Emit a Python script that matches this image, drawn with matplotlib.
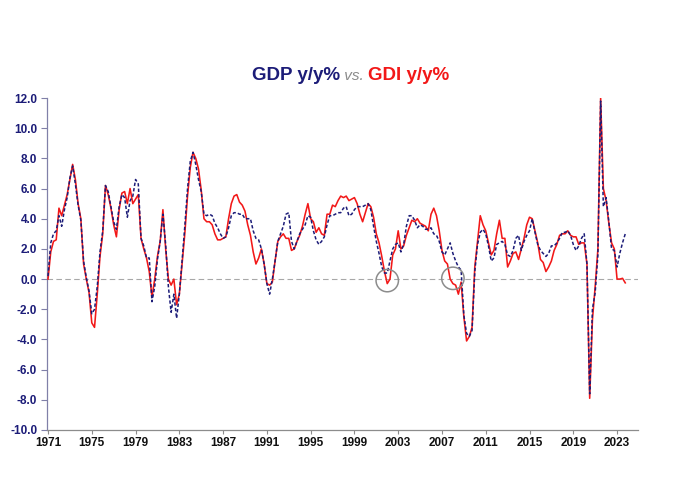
import numpy as np
import matplotlib
matplotlib.use("Agg")
import matplotlib.pyplot as plt
from matplotlib.offsetbox import TextArea, HPacker, AnchoredOffsetbox

plt.rcParams['font.family'] = ['Liberation Sans', 'DejaVu Sans']

# Quarterly y/y % (quarter-end positions, first point = 1970Q4 plotted at 1971.0)
start_year = 1971.0
gdp_yy = [
    0.2, 2.4, 3.0, 3.2,      # 1971
    4.2, 3.5, 4.6, 5.4,      # 1972
    6.7, 7.5, 6.3, 4.9,      # 1973
    3.9, 1.2, 0.1, -0.8,     # 1974
    -2.3, -2.0, -0.5, 1.8,   # 1975
    3.2, 6.2, 5.8, 4.8,      # 1976
    3.8, 3.3, 4.8, 5.6,      # 1977
    5.4, 4.1, 5.2, 5.5,      # 1978
    6.6, 6.3, 2.7, 2.2,      # 1979
    1.4, 1.4, -1.5, -0.5,    # 1980
    1.3, 2.5, 4.3, 2.3,      # 1981
    -0.5, -2.2, -1.0, -2.6,  # 1982
    -1.0, 1.2, 3.5, 6.0,     # 1983
    7.8, 8.4, 7.6, 6.6,      # 1984
    5.8, 4.3, 4.2, 4.3,      # 1985
    4.2, 3.7, 3.4, 3.0,      # 1986
    2.7, 2.8, 3.4, 4.2,      # 1987
    4.4, 4.4, 4.3, 4.3,      # 1988
    4.0, 4.0, 4.0, 3.2,      # 1989
    2.7, 2.6, 2.0, 1.0,      # 1990
    -0.3, -1.0, 0.0, 1.2,    # 1991
    2.5, 3.0, 3.5, 4.3,      # 1992
    4.4, 2.5, 2.0, 2.5,      # 1993
    3.0, 3.3, 3.6, 4.2,      # 1994
    4.1, 3.2, 2.6, 2.3,      # 1995
    2.5, 2.8, 3.6, 4.2,      # 1996
    4.2, 4.3, 4.4, 4.4,      # 1997
    4.7, 4.8, 4.2, 4.3,      # 1998
    4.6, 4.8, 4.8, 4.8,      # 1999
    4.9, 5.0, 4.6, 3.5,      # 2000
    2.5, 1.7, 0.8, 0.4,      # 2001
    0.4, 1.2, 2.0, 2.3,      # 2002
    2.4, 1.8, 2.3, 3.5,      # 2003
    4.2, 4.2, 3.9, 3.4,      # 2004
    3.6, 3.5, 3.3, 3.3,      # 2005
    3.4, 3.0, 2.9, 2.5,      # 2006
    1.8, 1.6, 2.0, 2.4,      # 2007
    1.7, 1.2, 0.8, 0.6,      # 2008
    -2.4, -3.6, -3.8, -3.4,  # 2009
    0.5, 2.3, 3.1, 3.3,      # 2010
    3.0, 2.2, 1.2, 1.4,      # 2011
    2.3, 2.4, 2.5, 2.3,      # 2012
    1.6, 1.5, 1.9, 2.7,      # 2013
    2.9, 1.9, 2.5, 2.9,      # 2014
    3.2, 4.0, 3.1, 2.3,      # 2015
    1.9, 1.7, 1.5, 1.7,      # 2016
    2.2, 2.2, 2.4, 2.7,      # 2017
    3.1, 3.1, 3.2, 2.9,      # 2018
    2.3, 1.9, 2.2, 2.7,      # 2019
    3.0, 1.0, -7.6, -2.0,    # 2020
    -0.9, 1.6, 11.8, 4.8,    # 2021
    5.4, 3.8, 2.0, 1.9,      # 2022
    0.8, 1.7, 2.4, 3.0,      # 2023
]
gdi_yy = [
    0.0, 1.8, 2.5, 2.6,      # 1971
    4.7, 4.2, 4.9, 5.6,      # 1972
    6.6, 7.6, 6.6, 5.0,      # 1973
    4.0, 1.0, 0.0, -0.9,     # 1974
    -2.9, -3.2, -1.0, 1.5,   # 1975
    3.0, 6.2, 5.6, 4.7,      # 1976
    3.6, 2.8, 4.6, 5.7,      # 1977
    5.8, 5.0, 6.0, 5.0,      # 1978
    5.3, 5.6, 2.7, 2.0,      # 1979
    1.4, 0.5, -1.2, 0.0,     # 1980
    1.5, 2.5, 4.6, 2.0,      # 1981
    0.0, -0.4, 0.0, -1.7,    # 1982
    -1.0, 1.0, 3.0, 5.5,     # 1983
    7.4, 8.4, 8.0, 7.3,      # 1984
    5.9, 4.0, 3.8, 3.8,      # 1985
    3.6, 3.0, 2.6, 2.6,      # 1986
    2.7, 2.8, 4.0, 5.0,      # 1987
    5.5, 5.6, 5.1, 4.9,      # 1988
    4.5, 3.6, 2.9, 1.8,      # 1989
    1.0, 1.4, 2.0, 1.0,      # 1990
    -0.3, -0.4, -0.2, 1.2,   # 1991
    2.5, 2.8, 3.0, 2.7,      # 1992
    2.7, 1.9, 2.0, 2.5,      # 1993
    2.9, 3.5, 4.3, 5.0,      # 1994
    4.0, 3.8, 3.1, 3.4,      # 1995
    3.0, 2.9, 4.3, 4.3,      # 1996
    4.9, 4.8, 5.2, 5.5,      # 1997
    5.4, 5.5, 5.2, 5.3,      # 1998
    5.4, 5.0, 4.3, 3.8,      # 1999
    4.4, 5.0, 4.8, 4.1,      # 2000
    3.0, 2.4, 1.5, 0.5,      # 2001
    -0.3, 0.0, 1.6, 2.0,     # 2002
    3.2, 2.0, 2.2, 2.9,      # 2003
    3.4, 3.9, 3.8, 4.0,      # 2004
    3.7, 3.6, 3.5, 3.2,      # 2005
    4.3, 4.7, 4.2, 3.2,      # 2006
    1.9, 1.2, 1.0, 0.0,      # 2007
    -0.3, -0.4, -1.0, -0.2,  # 2008
    -2.5, -4.1, -3.8, -3.2,  # 2009
    0.8, 2.5, 4.2, 3.6,      # 2010
    3.2, 2.4, 1.6, 1.9,      # 2011
    3.0, 3.9, 2.7, 2.7,      # 2012
    0.8, 1.2, 1.7, 1.8,      # 2013
    1.3, 2.0, 2.7, 3.6,      # 2014
    4.1, 4.0, 3.2, 2.4,      # 2015
    1.3, 1.1, 0.5, 0.8,      # 2016
    1.2, 1.9, 2.3, 2.9,      # 2017
    3.0, 3.0, 3.2, 2.9,      # 2018
    2.8, 2.8, 2.3, 2.4,      # 2019
    2.4, 1.0, -7.9, -2.7,    # 2020
    -0.5, 2.0, 12.0, 6.0,    # 2021
    5.2, 3.7, 2.4, 2.0,      # 2022
    0.0, 0.0, 0.05, -0.25,   # 2023
]
tick_years = list(range(1971, 2024, 4))
y_ticks = list(range(-10, 13, 2))
highlight_x = [2002.0, 2008.0]
highlight_y = [-0.1, 0.05]

x_dates = start_year + 0.25 * np.arange(len(gdp_yy))

NAVY = '#1c1c78'
RED = '#f21818'

fig = plt.figure(figsize=(6.8, 4.94), dpi=100)
ax = fig.add_axes([0.069, 0.1296, 0.869, 0.672])

ax.axhline(0, color='#a8a8a8', lw=0.8, ls=(0, (5, 3)), zorder=1)
ax.plot(x_dates, gdi_yy, color=RED, lw=1.15, zorder=3)
ax.plot(x_dates, gdp_yy, color=NAVY, lw=1.1, ls=(0, (2.2, 1.4)), zorder=4)
ax.scatter(highlight_x, highlight_y, s=260, facecolors='none',
           edgecolors='#8c8c8c', linewidths=1.1, zorder=5)

ax.set_xlim(1970.9, 2024.9)
ax.set_ylim(-10, 12)
ax.set_yticks(y_ticks)
ax.set_yticklabels([f"{v:.1f}" for v in y_ticks], color=NAVY,
                   fontweight='bold', fontsize=8.5)
ax.set_xticks(tick_years)
ax.set_xticklabels([str(y) for y in tick_years], color='#111111',
                   fontweight='bold', fontsize=8.5)

for s in ['top', 'right']:
    ax.spines[s].set_visible(False)
ax.spines['left'].set_color('#8080a8')
ax.spines['bottom'].set_color('#8c8c8c')
ax.spines['left'].set_linewidth(0.9)
ax.spines['bottom'].set_linewidth(0.9)
ax.tick_params(axis='y', direction='out', length=4, color='#8080a8', pad=3)
ax.tick_params(axis='x', direction='out', length=3, color='#8c8c8c', pad=2)

t1 = TextArea("GDP y/y%", textprops=dict(color=NAVY, fontweight='bold', fontsize=13.5))
t2 = TextArea(" vs. ", textprops=dict(color='#8c8c8c', style='italic', fontsize=11))
t3 = TextArea("GDI y/y%", textprops=dict(color=RED, fontweight='bold', fontsize=13.5))
box = HPacker(children=[t1, t2, t3], align='baseline', pad=0, sep=0)
anch = AnchoredOffsetbox(loc='center', child=box, pad=0, frameon=False,
                         bbox_to_anchor=(0.515, 0.848),
                         bbox_transform=fig.transFigure, borderpad=0)
fig.add_artist(anch)

fig.savefig('out.png', dpi=100)
